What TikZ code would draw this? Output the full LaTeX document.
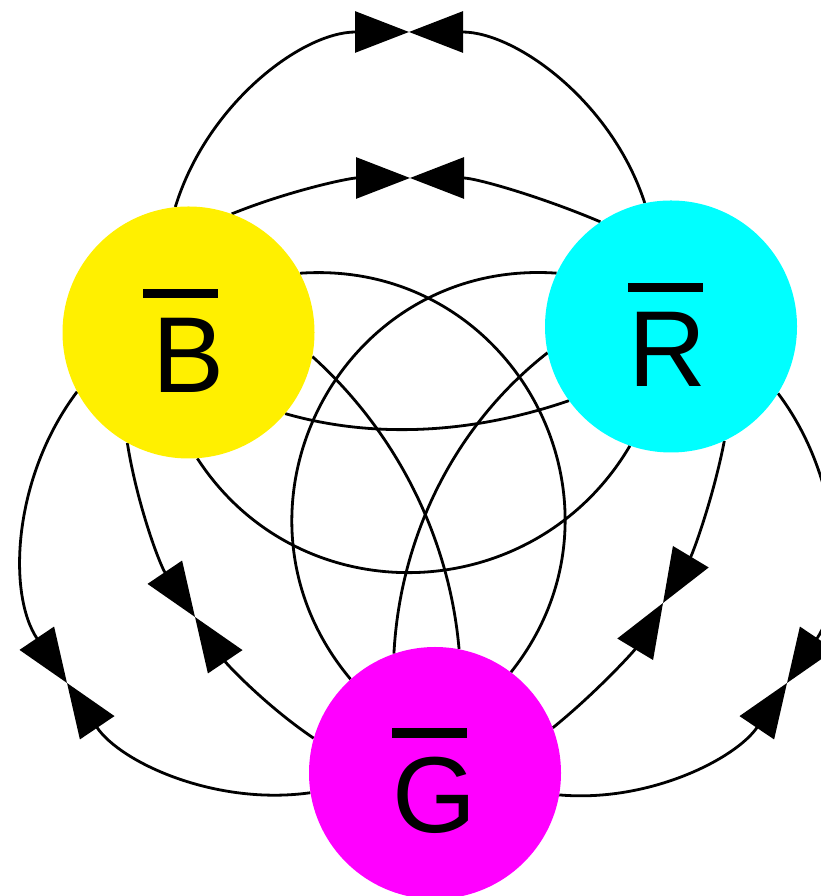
\documentclass[tikz,border=0pt]{standalone}
\usepackage{fontspec}
\newfontfamily\lblfont{Liberation Sans}
\usetikzlibrary{arrows.meta}
\pgfdeclarelayer{background}
\pgfsetlayers{background,main}
\definecolor{cY}{RGB}{255,240,0}
\definecolor{cC}{RGB}{0,255,255}
\definecolor{cM}{RGB}{255,0,255}
\newcommand{\barlabel}[2]{\setbox0=\hbox{#1}\vbox{\offinterlineskip\hbox to \wd0{\hss\kern#2\rule{75pt}{9.5pt}\kern-#2\hss}\kern20pt\box0}}
\begin{document}
\begin{tikzpicture}[x=1pt,y=1pt,
  colornode/.style={circle,minimum size=252pt,inner sep=0pt},
  lbl/.style={font=\lblfont\fontsize{108pt}{110pt}\selectfont,inner sep=0pt,anchor=base},
  edge/.style={draw,line width=2.8pt},
  arw/.style={edge,-{Triangle[length=54pt,width=41pt]}}]
\useasboundingbox (0,0) rectangle (820,896);
\clip (0,0) rectangle (820,896);
% nodes
\node[colornode,fill=cY] (B) at (188.5,563.5) {};
\node[colornode,fill=cC] (R) at (671,569.5) {};
\node[colornode,fill=cM] (G) at (435,123) {};
\node[lbl] (Bl) at ([yshift=-60pt]B.center) {\barlabel{B}{-8pt}};
\node[lbl] (Rl) at ([xshift=-3.5pt,yshift=-60pt]R.center) {\barlabel{R}{-2pt}};
\node[lbl] (Gl) at ([xshift=-1pt,yshift=-60pt]G.center) {\barlabel{G}{-5pt}};
% midpoints of the arrowed arcs
\coordinate (t1) at (409,864);
\coordinate (t2) at (410,718);
\coordinate (m9) at (67,213);
\coordinate (m10) at (195,279);
\coordinate (m11) at (787,213);
\coordinate (m12) at (663,293);
\begin{pgfonlayer}{background}
% B -- R
\path[arw] (B.96) to[out=73,in=180,looseness=0.94] (t1);
\path[arw] (R.102) to[out=108,in=0,looseness=0.94] (t1);
\path[arw] (B.70) to[out=22,in=180,looseness=0.86] (t2);
\path[arw] (R.124) to[out=157,in=0,looseness=0.86] (t2);
\path[edge] (B.-40) to[out=-16,in=199,looseness=0.87] (R.216);
\path[edge] (B.-86) to[out=303,in=239.5,looseness=1.115] (R.251);
% B -- G
\path[arw] (B.208) to[out=233,in=124,looseness=0.94] (m9);
\path[arw] (G.189) to[out=188,in=304,looseness=0.92] (m9);
\path[arw] (B.241) to[out=279,in=124,looseness=0.86] (m10);
\path[arw] (G.164) to[out=146,in=304,looseness=0.86] (m10);
\path[edge] (B.28.5) to[out=4,in=51.5,looseness=1.22] (G.53);
\path[edge] (B.-11) to[out=-42,in=95,looseness=0.88] (G.79);
% R -- G
\path[arw] (R.-32) to[out=-53,in=56,looseness=0.94] (m11);
\path[arw] (G.-10) to[out=-5,in=236,looseness=0.915] (m11);
\path[arw] (R.-65) to[out=-101,in=59,looseness=0.86] (m12);
\path[arw] (G.21) to[out=39,in=239,looseness=0.86] (m12);
\path[edge] (R.155) to[out=176,in=130,looseness=1.23] (G.132);
\path[edge] (R.192) to[out=218,in=87,looseness=0.89] (G.109);
\end{pgfonlayer}
\end{tikzpicture}
\end{document}
